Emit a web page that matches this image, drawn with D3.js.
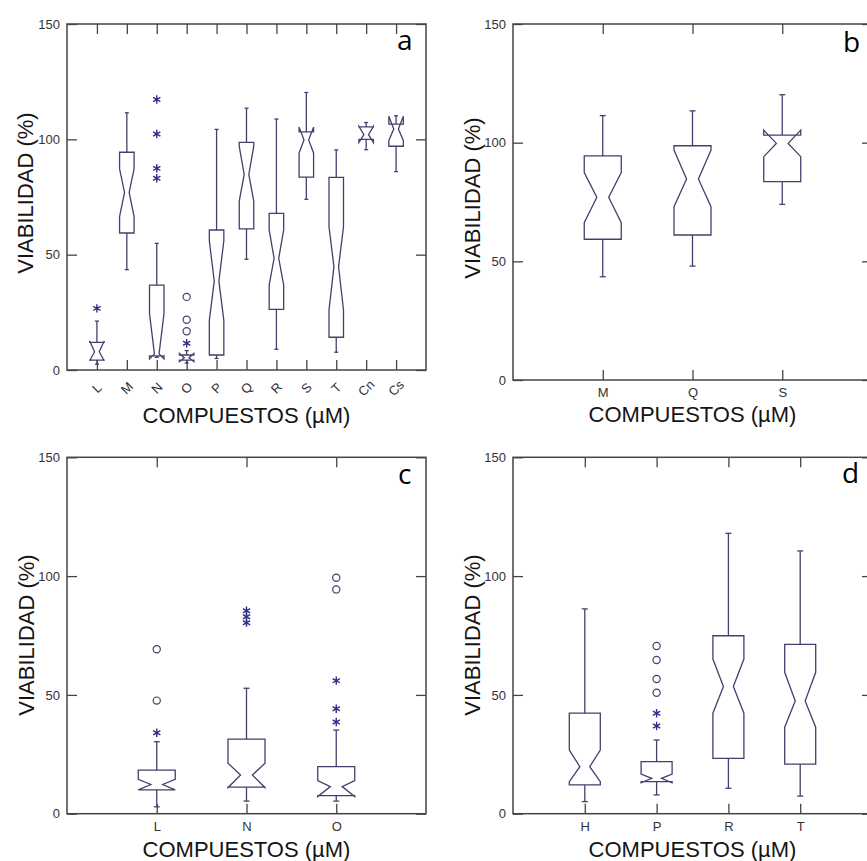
<!DOCTYPE html>
<html>
<head>
<meta charset="utf-8">
<script src="https://cdn.jsdelivr.net/npm/d3@7"></script>
<style>
  html, body { margin: 0; padding: 0; background: #fff; }
  svg { display: block; }
  .tick text { font-family: "Liberation Sans", Arial, sans-serif; fill: #333; }
</style>
</head>
<body>
<svg id="chart" width="867" height="861"></svg>
<script>
// ---- Panel a: all compounds ----
const catsA   = ["L", "M", "N", "O", "P", "Q", "R", "S", "T", "Cn", "Cs"];
const lowA    = [2.5, 43.5, 5.5, 3.0, 5.0, 48.0, 9.0, 74.0, 7.7, 95.5, 86.0];
const q1A     = [4.3, 59.4, 6.1, 4.3, 6.5, 61.2, 26.3, 83.6, 14.2, 100.0, 97.0];
const notchLoA= [4.0, 66.5, 4.8, 3.6, 21.5, 73.2, 36.8, 94.1, 26.0, 98.6, 99.5];
const medA    = [7.9, 77.0, 7.0, 5.3, 38.5, 84.8, 48.4, 99.7, 44.8, 102.0, 104.5];
const notchHiA= [12.6, 87.2, 24.5, 7.2, 56.0, 96.9, 60.7, 105.3, 62.1, 105.6, 110.0];
const q3A     = [12.0, 94.4, 36.8, 6.5, 60.7, 98.7, 67.9, 103.2, 83.5, 105.4, 106.6];
const highA   = [21.2, 111.5, 54.9, 8.4, 104.3, 113.5, 108.8, 120.3, 95.4, 107.3, 110.2];
const starsA  = [[26.7], [], [117.3, 102.3, 87.4, 83.1], [11.6], [], [], [], [], [], [], []];
const circlesA= [[], [], [], [31.7, 21.8, 16.8], [], [], [], [], [], [], []];

// ---- Panel b: M, Q, S ----
const catsB   = ["M", "Q", "S"];
const lowB    = [43.5, 48.0, 74.0];
const q1B     = [59.3, 61.1, 83.6];
const notchLoB= [66.3, 73.0, 94.1];
const medB    = [77.0, 84.7, 99.7];
const notchHiB= [87.4, 96.9, 105.3];
const q3B     = [94.4, 98.7, 103.2];
const highB   = [111.4, 113.4, 120.2];
const starsB  = [[], [], []];
const circlesB= [[], [], []];

// ---- Panel c: L, N, O ----
const catsC   = ["L", "N", "O"];
const lowC    = [2.9, 5.3, 5.3];
const q1C     = [10.0, 11.2, 7.6];
const notchLoC= [10.0, 11.0, 7.2];
const medC    = [12.3, 16.3, 11.4];
const notchHiC= [14.5, 21.2, 13.9];
const q3C     = [18.3, 31.4, 19.8];
const highC   = [30.3, 52.8, 35.2];
const starsC  = [[34.1], [85.4, 82.9, 80.4], [56.0, 44.2, 38.6]];
const circlesC= [[47.6, 69.2], [], [99.3, 94.4]];

// ---- Panel d: H, P, R, T ----
const catsD   = ["H", "P", "R", "T"];
const lowD    = [5.1, 7.9, 10.7, 7.4];
const q1D     = [12.1, 13.5, 23.3, 20.9];
const notchLoD= [13.5, 13.0, 42.3, 36.4];
const medD    = [19.8, 14.9, 53.5, 47.4];
const notchHiD= [26.8, 16.7, 65.1, 59.5];
const q3D     = [42.3, 21.9, 74.9, 71.3];
const highD   = [86.2, 31.0, 118.0, 110.6];
const starsD  = [[], [42.3, 36.9], [], []];
const circlesD= [[], [70.6, 64.7, 56.7, 50.9], [], []];

const yTicks = [0, 50, 100, 150];
const yTitle = "VIABILIDAD (%)";
const xTitle = "COMPUESTOS (\u00B5M)";

const boxColor = "#463f6e";
const starColor = "#2f2c8c";
const frameColor = "#444";
const fontSans = "Liberation Sans, Arial, sans-serif";

const svg = d3.select("#chart");

const panels = [
  { letter: "a", cats: catsA, low: lowA, q1: q1A, nLo: notchLoA, med: medA, nHi: notchHiA, q3: q3A, high: highA,
    stars: starsA, circles: circlesA,
    left: 67, right: 426, top: 24, bottom: 370, boxW: 14.5, capW: 4, rotate: true,
    yTitleX: 25, yTitleY: 193, xTitleY: 423, letterX: 397, letterY: 50 },
  { letter: "b", cats: catsB, low: lowB, q1: q1B, nLo: notchLoB, med: medB, nHi: notchHiB, q3: q3B, high: highB,
    stars: starsB, circles: circlesB,
    left: 513, right: 872, top: 24, bottom: 380, boxW: 37, capW: 6, rotate: false,
    yTitleX: 472, yTitleY: 198, xTitleY: 422, letterX: 843, letterY: 52 },
  { letter: "c", cats: catsC, low: lowC, q1: q1C, nLo: notchLoC, med: medC, nHi: notchHiC, q3: q3C, high: highC,
    stars: starsC, circles: circlesC,
    left: 67, right: 426, top: 457.3, bottom: 813.7, boxW: 37, capW: 6, rotate: false,
    yTitleX: 26, yTitleY: 635, xTitleY: 857, letterX: 398, letterY: 484 },
  { letter: "d", cats: catsD, low: lowD, q1: q1D, nLo: notchLoD, med: medD, nHi: notchHiD, q3: q3D, high: highD,
    stars: starsD, circles: circlesD,
    left: 513, right: 872, top: 457.3, bottom: 813.7, boxW: 31, capW: 6, rotate: false,
    yTitleX: 472, yTitleY: 635, xTitleY: 857, letterX: 842, letterY: 483 }
];

// six-armed asterisk centred on (0,0)
function asteriskPath(r) {
  const p = d3.path();
  for (let k = 0; k < 3; k++) {
    const a = Math.PI / 2 + k * Math.PI / 3;
    p.moveTo(r * Math.cos(a), r * Math.sin(a));
    p.lineTo(-r * Math.cos(a), -r * Math.sin(a));
  }
  return p.toString();
}

panels.forEach(P => {
  const x = d3.scalePoint().domain(P.cats).range([P.left, P.right]).padding(1);
  const y = d3.scaleLinear().domain([0, 150]).range([P.bottom, P.top]);
  const g = svg.append("g");

  // axes with inward ticks on every side
  const axL = g.append("g").attr("transform", `translate(${P.left},0)`)
    .call(d3.axisLeft(y).tickValues(yTicks).tickSize(-10).tickPadding(7).tickFormat(d3.format("d")));
  const axR = g.append("g").attr("transform", `translate(${P.right},0)`)
    .call(d3.axisRight(y).tickValues(yTicks).tickSize(-10).tickFormat(""));
  const axT = g.append("g").attr("transform", `translate(0,${P.top})`)
    .call(d3.axisTop(x).tickSize(-10).tickFormat(""));
  const axB = g.append("g").attr("transform", `translate(0,${P.bottom})`)
    .call(d3.axisBottom(x).tickSize(-10).tickPadding(8).tickFormat(P.rotate ? "" : d => d));

  [axL, axR, axT, axB].forEach(a => {
    a.select(".domain").remove();
    a.selectAll(".tick line").attr("stroke", frameColor).attr("stroke-width", 1.3);
  });
  axL.selectAll(".tick text").attr("font-size", 13);
  axB.selectAll(".tick text").attr("font-size", 13);

  // slanted category labels
  if (P.rotate) {
    g.append("g").selectAll("text").data(P.cats).join("text")
      .attr("transform", d => `translate(${x(d)},${P.bottom + 18}) rotate(-45)`)
      .attr("text-anchor", "middle").attr("dy", "0.35em")
      .attr("font-family", fontSans).attr("font-size", 13).attr("fill", "#333")
      .text(d => d);
  }

  // plot frame
  g.append("rect")
    .attr("x", P.left).attr("y", P.top)
    .attr("width", P.right - P.left).attr("height", P.bottom - P.top)
    .attr("fill", "none").attr("stroke", frameColor).attr("stroke-width", 1.5);

  // notched boxes
  const boxes = g.append("g").attr("fill", "none").attr("stroke", boxColor).attr("stroke-width", 1.3);
  P.cats.forEach((c, i) => {
    const cx = x(c);
    const xl = cx - P.boxW / 2, xr = cx + P.boxW / 2;
    const ind = P.boxW * 0.34;
    const path = d3.path();
    path.moveTo(xl, y(P.q1[i]));
    path.lineTo(xl, y(P.nLo[i]));
    path.lineTo(xl + ind, y(P.med[i]));
    path.lineTo(xl, y(P.nHi[i]));
    path.lineTo(xl, y(P.q3[i]));
    path.lineTo(xr, y(P.q3[i]));
    path.lineTo(xr, y(P.nHi[i]));
    path.lineTo(xr - ind, y(P.med[i]));
    path.lineTo(xr, y(P.nLo[i]));
    path.lineTo(xr, y(P.q1[i]));
    path.closePath();
    boxes.append("path").attr("d", path.toString()).attr("stroke-linejoin", "miter");

    // whiskers and caps
    boxes.append("line").attr("x1", cx).attr("x2", cx).attr("y1", y(P.q3[i])).attr("y2", y(P.high[i]));
    boxes.append("line").attr("x1", cx).attr("x2", cx).attr("y1", y(P.q1[i])).attr("y2", y(P.low[i]));
    boxes.append("line").attr("x1", cx - P.capW / 2).attr("x2", cx + P.capW / 2)
      .attr("y1", y(P.high[i])).attr("y2", y(P.high[i]));
    boxes.append("line").attr("x1", cx - P.capW / 2).attr("x2", cx + P.capW / 2)
      .attr("y1", y(P.low[i])).attr("y2", y(P.low[i]));

    // outliers
    P.stars[i].forEach(v => {
      g.append("path").attr("d", asteriskPath(4.2))
        .attr("transform", `translate(${cx},${y(v)})`)
        .attr("fill", "none").attr("stroke", starColor).attr("stroke-width", 1.4);
    });
    P.circles[i].forEach(v => {
      g.append("circle").attr("cx", cx).attr("cy", y(v)).attr("r", 3.6)
        .attr("fill", "none").attr("stroke", boxColor).attr("stroke-width", 1.2);
    });
  });

  // axis titles
  g.append("text")
    .attr("transform", `translate(${P.yTitleX},${P.yTitleY}) rotate(-90)`)
    .attr("text-anchor", "middle").attr("dy", "0.35em")
    .attr("font-family", fontSans).attr("font-size", 22).attr("fill", "#151515")
    .text(yTitle);
  g.append("text")
    .attr("x", (P.left + P.right) / 2).attr("y", P.xTitleY)
    .attr("text-anchor", "middle")
    .attr("font-family", fontSans).attr("font-size", 22).attr("fill", "#151515")
    .text(xTitle);

  // panel letter
  g.append("text")
    .attr("x", P.letterX).attr("y", P.letterY)
    .attr("font-family", "Open Sans, sans-serif").attr("font-size", 28).attr("fill", "#000")
    .text(P.letter);
});
</script>
</body>
</html>
